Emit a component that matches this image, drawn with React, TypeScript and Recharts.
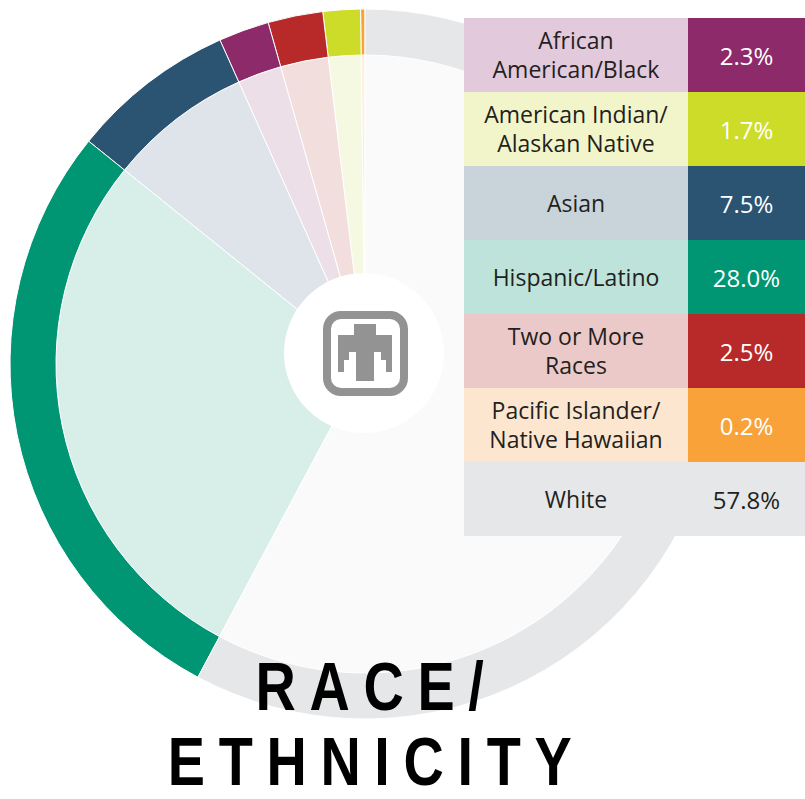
import React from 'react';
import { PieChart, Pie, Cell } from 'recharts';

// slices in drawing order, counter-clockwise from 12 o'clock
const categories = [
    'Pacific Islander/Native Hawaiian',
    'American Indian/Alaskan Native',
    'Two or More Races',
    'African American/Black',
    'Asian',
    'Hispanic/Latino',
    'White'
];
const shares = [0.2, 1.7, 2.5, 2.3, 7.5, 28.0, 57.8];
const shareLabels = ['0.2%', '1.7%', '2.5%', '2.3%', '7.5%', '28.0%', '57.8%'];
const ringColors = ['#f9a23a', '#cddc29', '#b8292a', '#8c2a6a', '#2a5472', '#009573', '#e6e7e8'];
const wedgeColors = ['#fdefe1', '#f6f9e1', '#f3dede', '#eddfe7', '#dfe4eb', '#d8efe9', '#fafafa'];
const legendColors = ['#fde6cf', '#f2f5c9', '#ecc9c9', '#e3c9dc', '#c9d4da', '#bde3da', '#e6e7e8'];
const legendLines = [
    ['Pacific Islander/', 'Native Hawaiian'],
    ['American Indian/', 'Alaskan Native'],
    ['Two or More', 'Races'],
    ['African', 'American/Black'],
    ['Asian'],
    ['Hispanic/Latino'],
    ['White']
];
// table order (index into the arrays above)
const legendOrder = [3, 1, 4, 5, 2, 0, 6];

const data = categories.map((name, i) => ({ name, value: shares[i] }));

const CX = 365;
const CY = 364;

const Logo = () => (
    <svg width={805} height={799} style={{ position: 'absolute', left: 0, top: 0, pointerEvents: 'none' }}>
        <circle cx={364} cy={353} r={80} fill="#fff" />
        <rect x={327} y={315} width={77} height={77} rx={14} fill="none" stroke="#939393" strokeWidth={8} />
        <polygon
            fill="#939393"
            points={[
                [-11, 324], [11, 324], [11, 335], [27, 335], [27, 372], [21, 372], [21, 360], [16, 360],
                [16, 352], [9, 352], [9, 381], [-9, 381], [-9, 352], [-16, 352], [-16, 360], [-21, 360],
                [-21, 372], [-27, 372], [-27, 335], [-11, 335]
            ].map(([x, y]) => `${365 + x},${y}`).join(' ')}
        />
    </svg>
);

const LegendTable = () => (
    <div style={{ position: 'absolute', left: 464, top: 18, width: 341, fontFamily: '"Open Sans", sans-serif' }}>
        {legendOrder.map((idx) => {
            const isWhite = categories[idx] === 'White';
            return (
                <div key={idx} style={{ display: 'flex', height: 74 }}>
                    <div style={{
                        width: 224, background: legendColors[idx], display: 'flex', flexDirection: 'column',
                        alignItems: 'center', justifyContent: 'center', fontSize: 23, lineHeight: '29px', color: '#231f20'
                    }}>
                        {legendLines[idx].map((l) => <span key={l}>{l}</span>)}
                    </div>
                    <div style={{
                        width: 117, background: ringColors[idx], display: 'flex', alignItems: 'center',
                        justifyContent: 'center', fontSize: 24, color: isWhite ? '#231f20' : '#fff'
                    }}>
                        {shareLabels[idx]}
                    </div>
                </div>
            );
        })}
    </div>
);

export default function App() {
    return (
        <div style={{ position: 'absolute', left: 0, top: 0, width: 805, height: 799, background: '#fff', overflow: 'hidden' }}>
            <PieChart width={805} height={799} margin={{ top: 0, right: 0, bottom: 0, left: 0 }}>
                <Pie
                    data={data}
                    dataKey="value"
                    cx={CX}
                    cy={CY}
                    innerRadius={0}
                    outerRadius={309}
                    startAngle={90}
                    endAngle={450}
                    stroke="#fff"
                    strokeWidth={1}
                    isAnimationActive={false}
                >
                    {data.map((d, i) => <Cell key={d.name} fill={wedgeColors[i]} />)}
                </Pie>
                <Pie
                    data={data}
                    dataKey="value"
                    cx={CX}
                    cy={CY}
                    innerRadius={309}
                    outerRadius={355}
                    startAngle={90}
                    endAngle={450}
                    stroke="#fff"
                    strokeWidth={1}
                    isAnimationActive={false}
                >
                    {data.map((d, i) => <Cell key={d.name} fill={ringColors[i]} />)}
                </Pie>
            </PieChart>
            <Logo />
            <LegendTable />
            <div style={{
                position: 'absolute', left: 0, top: 646, width: 740, textAlign: 'center',
                fontFamily: '"Liberation Sans", sans-serif', fontWeight: 700,
                fontSize: 68, letterSpacing: 16.7, color: '#000',
                transform: 'scaleX(0.82)', transformOrigin: '370px 0'
            }}>
                <div style={{ paddingLeft: 16, lineHeight: '81px', height: 81 }}>RACE/</div>
                <div style={{ paddingLeft: 16, lineHeight: '62px', height: 62, marginTop: 2.5 }}>ETHNICITY</div>
            </div>
        </div>
    );
}
